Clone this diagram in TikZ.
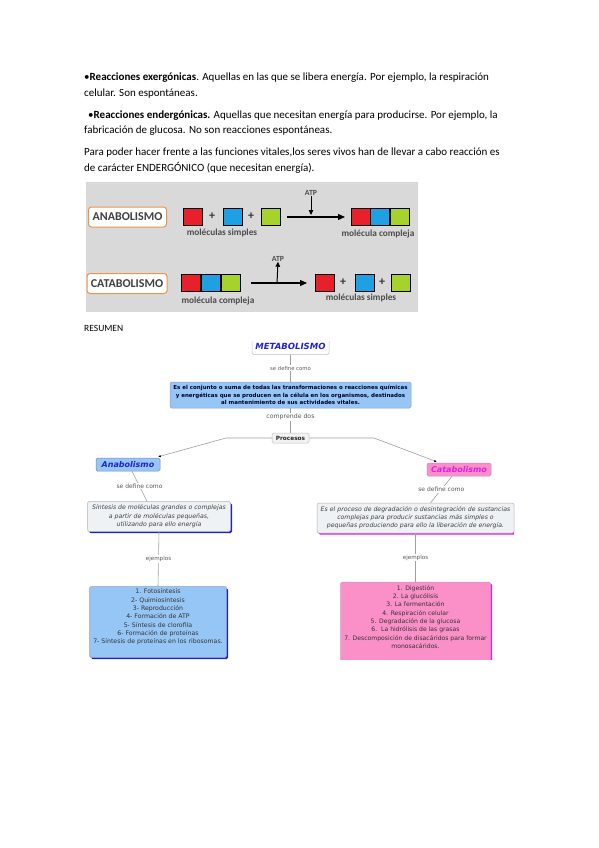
\documentclass[tikz,border=0pt]{standalone}
\usepackage{fontspec}
\setmainfont{Carlito}
\newfontfamily\vfont{DejaVu Sans}
\usetikzlibrary{arrows.meta,calc,shadows}
\definecolor{qred}{HTML}{E8202A}
\definecolor{qblue}{HTML}{1EA0E2}
\definecolor{qgreen}{HTML}{A6D22C}
\definecolor{qorange}{HTML}{E8964A}
\definecolor{qgray}{HTML}{D9D9D9}
\definecolor{mblue}{HTML}{2222CC}
\definecolor{mmag}{HTML}{E020E0}
\definecolor{lblue}{HTML}{96C6F6}
\definecolor{lpink}{HTML}{FB8FC8}
\definecolor{pale}{HTML}{EEF2F5}
\definecolor{cline}{HTML}{A0A0A0}
\begin{document}
\begin{tikzpicture}[x=1pt,y=-1pt,
  para/.style={anchor=base west, inner sep=0, font=\fontsize{11}{12}\selectfont},
  sq/.style={draw=black, line width=0.8pt, minimum width=19pt, minimum height=17pt, inner sep=0, anchor=north west},
  lbox/.style={draw=qorange, line width=1pt, rounded corners=3pt, fill=white, minimum width=78pt, minimum height=20pt, inner sep=0, font=\bfseries\fontsize{12}{13}\selectfont, text=black!75},
  small/.style={inner sep=0, font=\bfseries\fontsize{9.3}{10}\selectfont, text=black!70},
  plus/.style={inner sep=0, font=\bfseries\fontsize{12}{13}\selectfont, text=black!80},
  arr/.style={line width=1.1pt, -{Triangle[length=7pt,width=6pt]}},
  conn/.style={draw=cline, line width=0.6pt},
  tip/.style={-{Latex[length=2.5pt,width=2.5pt,color=black]}},
  lab/.style={fill=white, inner sep=0.8pt, text=black!65, font=\vfont\fontsize{5.6}{6}\selectfont},
  mbox/.style={rounded corners=1.5pt, inner sep=0, line width=0.5pt},
]
\useasboundingbox (0,0) rectangle (599,848);
\fill[white] (0,0) rectangle (599,848);

% ---- text paragraphs ----
\node[para] (t1) at (84,81) {•\textbf{Reacciones exergónicas}. Aquellas en las que se libera energía. Por ejemplo, la respiración};
\node[para] (t2) at (84,97) {celular. Son espontáneas.};
\node[para] (t3) at (88,118) {•\textbf{Reacciones endergónicas.} Aquellas que necesitan energía para producirse. Por ejemplo, la};
\node[para] (t4) at (84,134) {fabricación de glucosa. No son reacciones espontáneas.};
\node[para] (t5) at (84,155) {Para poder hacer frente a las funciones vitales,los seres vivos han de llevar a cabo reacción es};
\node[para] (t6) at (84,171) {de carácter ENDERGÓNICO (que necesitan energía).};

% ---- image ----
\fill[qgray] (86,182) rectangle (418,312);
\node[lbox] (ana) at (127.5,217) {ANABOLISMO};
\node[lbox, minimum width=80pt] (cat) at (127,283.5) {CATABOLISMO};

\node[sq, fill=qred] (ar) at (183,208) {};
\node[plus] (ap1) at (212,216.5) {+};
\node[sq, fill=qblue] (ab) at (222.5,208) {};
\node[plus] (ap2) at (251,216.5) {+};
\node[sq, fill=qgreen] (ag) at (261,208) {};
\node[small] (ams) at (222,233) {moléculas simples};
\coordinate (aa1) at (287,217);
\coordinate (aa2) at (345,217);
\draw[arr] (aa1) -- (aa2);
\node[small, font=\bfseries\fontsize{7.8}{8}\selectfont] (atp1) at (311,193) {ATP};
\draw[line width=1pt, -{Triangle[length=5pt,width=4.5pt]}] (atp1.south) -- (311,215);
\node[sq, fill=qred] (cr1) at (351,208) {};
\node[sq, fill=qblue] (cb1) at (370.3,208) {};
\node[sq, fill=qgreen] (cg1) at (389.6,208) {};
\node[small] (amc) at (378,234.5) {molécula compleja};

\node[sq, fill=qred] (cr2) at (181,274) {};
\node[sq, fill=qblue] (cb2) at (201,274) {};
\node[sq, fill=qgreen] (cg2) at (221,274) {};
\node[small] (cmc) at (218,301.5) {molécula compleja};
\coordinate (ca1) at (251,283);
\coordinate (ca2) at (307,283);
\draw[arr] (ca1) -- (ca2);
\node[small, font=\bfseries\fontsize{7.8}{8}\selectfont] (atp2) at (278,259) {ATP};
\draw[line width=1pt, -{Triangle[length=5pt,width=4.5pt]}] (277,283) -- (atp2.south);
\node[sq, fill=qred] (sr) at (315,274) {};
\node[plus] (cp1) at (343,282.5) {+};
\node[sq, fill=qblue] (sb) at (354.5,274) {};
\node[plus] (cp2) at (382,282.5) {+};
\node[sq, fill=qgreen] (sg) at (391,274) {};
\node[small] (cms) at (361,297.5) {moléculas simples};

\node[para, font=\fontsize{9.5}{11}\selectfont] (res) at (84,331) {RESUMEN};

% ---- concept map ----
\begin{scope}
\clip (84,341) rectangle (514,659);
\node[mbox, draw=black!25, fill=white, minimum width=77pt, minimum height=16pt, font=\vfont\bfseries\itshape\fontsize{8.5}{9}\selectfont, text=mblue] (meta) at (290.5,346.5) {METABOLISMO};
\node[mbox, draw=black!25, fill=white!95!black, minimum width=37pt, minimum height=10pt, font=\vfont\bfseries\fontsize{5.8}{6}\selectfont, text=black!85] (proc) at (290.5,438) {Procesos};
\node[mbox, draw=blue!45!black!40, fill=lblue, minimum width=241pt, minimum height=26pt, align=center, font=\vfont\bfseries\fontsize{5.5}{7.5}\selectfont, text=black!85!blue] (def) at (290.5,395) {Es el conjunto o suma de todas las transformaciones o reacciones químicas\\ y energéticas que se producen en la célula en los organismos, destinados\\ al mantenimiento de sus actividades vitales.};
\node[mbox, draw=blue!50!black!50, fill=lblue, minimum width=64pt, minimum height=13pt, font=\vfont\bfseries\itshape\fontsize{8}{9}\selectfont, text=mblue] (anab) at (128,464.5) {Anabolismo};
\node[mbox, draw=mmag!60!black!50, fill=lpink, minimum width=64pt, minimum height=13pt, font=\vfont\bfseries\itshape\fontsize{8}{9}\selectfont, text=mmag] (cata) at (459,469.5) {Catabolismo};
\node[mbox, draw=black!30, fill=pale, minimum width=143pt, minimum height=30pt, align=center, font=\vfont\itshape\fontsize{6.2}{8.5}\selectfont, text=black!75,
  drop shadow={shadow xshift=1.5pt, shadow yshift=-1.5pt, fill=mblue, opacity=1}] (asyn) at (159,516.5) {Síntesis de moléculas grandes o complejas\\ a partir de moléculas pequeñas,\\ utilizando para ello energía};
\node[mbox, draw=black!30, fill=pale, minimum width=197pt, minimum height=30pt, align=center, font=\vfont\itshape\fontsize{6.2}{8}\selectfont, text=black!75,
  drop shadow={shadow xshift=1.5pt, shadow yshift=-1.5pt, fill=mmag, opacity=1}] (csyn) at (415.5,518) {Es el proceso de degradación o desintegración de sustancias\\ complejas para producir sustancias más simples o\\ pequeñas produciendo para ello la liberación de energía.};
\node[mbox, draw=blue!40!black!40, fill=lblue, minimum width=137pt, minimum height=71pt,
  drop shadow={shadow xshift=1.5pt, shadow yshift=-1.5pt, fill=mblue, opacity=1}] (aex) at (158,622) {};
\node[align=center, inner sep=0, font=\vfont\fontsize{6.2}{8.3}\selectfont, text=black!80] (aexT) at (158,617) {1. Fotosíntesis\\ 2- Quimiosíntesis\\ 3- Reproducción\\ 4- Formación de ATP\\ 5- Síntesis de clorofila\\ 6- Formación de proteínas\\ 7- Síntesis de proteínas en los ribosomas.};
\node[mbox, draw=mmag!50!black!40, fill=lpink, minimum width=150pt, minimum height=80pt,
  drop shadow={shadow xshift=1.5pt, shadow yshift=-1.5pt, fill=mmag, opacity=1}] (cex) at (415.5,622) {};
\node[align=center, inner sep=0, font=\vfont\fontsize{6.1}{8.3}\selectfont, text=black!80] (cexT) at (415.5,617) {1. Digestión\\ 2. La glucólisis\\ 3. La fermentación\\ 4. Respiración celular\\ 5. Degradación de la glucosa\\ 6.\ \ La hidrólisis de las grasas\\ 7. Descomposición de disacáridos para formar\\ monosacáridos.};

% connectors
\draw[conn] (meta) -- node[lab, font=\vfont\fontsize{5.3}{6}\selectfont] {se define como} (def);
\draw[conn] (def) -- node[lab, font=\vfont\fontsize{6.2}{7}\selectfont, pos=0.35] {comprende dos} (proc);
\coordinate (pl) at (226,438);
\coordinate (pr) at (374,438);
\draw[conn, tip] (proc.west) -- (pl) -- ($(anab.north east)+(-2,-1)$);
\draw[conn, tip] (proc.east) -- (pr) -- ($(cata.north west)+(10,-1)$);
\draw[conn] ($(anab.south)+(4,0)$) -- node[lab, font=\vfont\fontsize{6}{7}\selectfont] {se define como} ($(asyn.north)+(-12,0)$);
\draw[conn] ($(cata.south)+(-7,0)$) -- node[lab, font=\vfont\fontsize{6}{7}\selectfont] {se define como} ($(csyn.north)+(15,0)$);
\draw[conn] (asyn.south) -- node[lab] {ejemplos} (aex.north);
\draw[conn] (csyn.south) -- node[lab] {ejemplos} (cex.north);
\end{scope}
\end{tikzpicture}
\end{document}
